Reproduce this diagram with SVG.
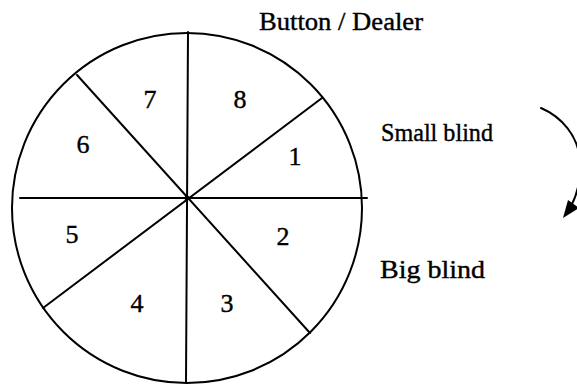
<svg xmlns="http://www.w3.org/2000/svg" width="577" height="385" viewBox="0 0 577 385">
<style>
.ln{stroke:#000;stroke-width:2;fill:none;stroke-linecap:round}
.num{font-family:"Liberation Serif","Times New Roman",serif;font-size:26px;fill:#000;stroke:#000;stroke-width:0.4;text-anchor:middle}
.lbl{font-family:"Liberation Serif","Times New Roman",serif;font-size:26px;fill:#000;stroke:#000;stroke-width:0.4}
</style>
<rect width="577" height="385" fill="#fff"/>
<g id="table">
<ellipse class="ln" cx="187" cy="208" rx="175" ry="175"/>
</g>
<g id="connectors">
<line class="ln" x1="188" y1="32" x2="186" y2="383"/>
<line class="ln" x1="20" y1="198" x2="367" y2="198"/>
<line class="ln" x1="322" y1="98" x2="43" y2="308"/>
<line class="ln" x1="77" y1="75" x2="310" y2="333"/>
<circle cx="187" cy="198" r="2.5" fill="#000"/>
<path class="ln" d="M541,108 C562,117 578,136 580,160 C581,178 577,194 572,204"/>
<polygon points="563,218 568,200 579,208" fill="#000"/>
</g>
<g id="seat-7"><text class="num" x="150" y="108">7</text></g>
<g id="seat-8"><text class="num" x="240" y="108">8</text></g>
<g id="seat-6"><text class="num" x="83" y="153">6</text></g>
<g id="seat-1"><text class="num" x="295" y="165">1</text></g>
<g id="seat-5"><text class="num" x="72" y="243">5</text></g>
<g id="seat-2"><text class="num" x="283" y="245">2</text></g>
<g id="seat-4"><text class="num" x="137" y="312">4</text></g>
<g id="seat-3"><text class="num" x="227" y="312">3</text></g>
<g id="label-button"><text class="lbl" x="259" y="30" textLength="164" lengthAdjust="spacingAndGlyphs">Button / Dealer</text></g>
<g id="label-small"><text class="lbl" x="381" y="141" style="font-size:25.5px" textLength="112" lengthAdjust="spacingAndGlyphs">Small blind</text></g>
<g id="label-big"><text class="lbl" x="380" y="278" textLength="105" lengthAdjust="spacingAndGlyphs">Big blind</text></g>
</svg>
